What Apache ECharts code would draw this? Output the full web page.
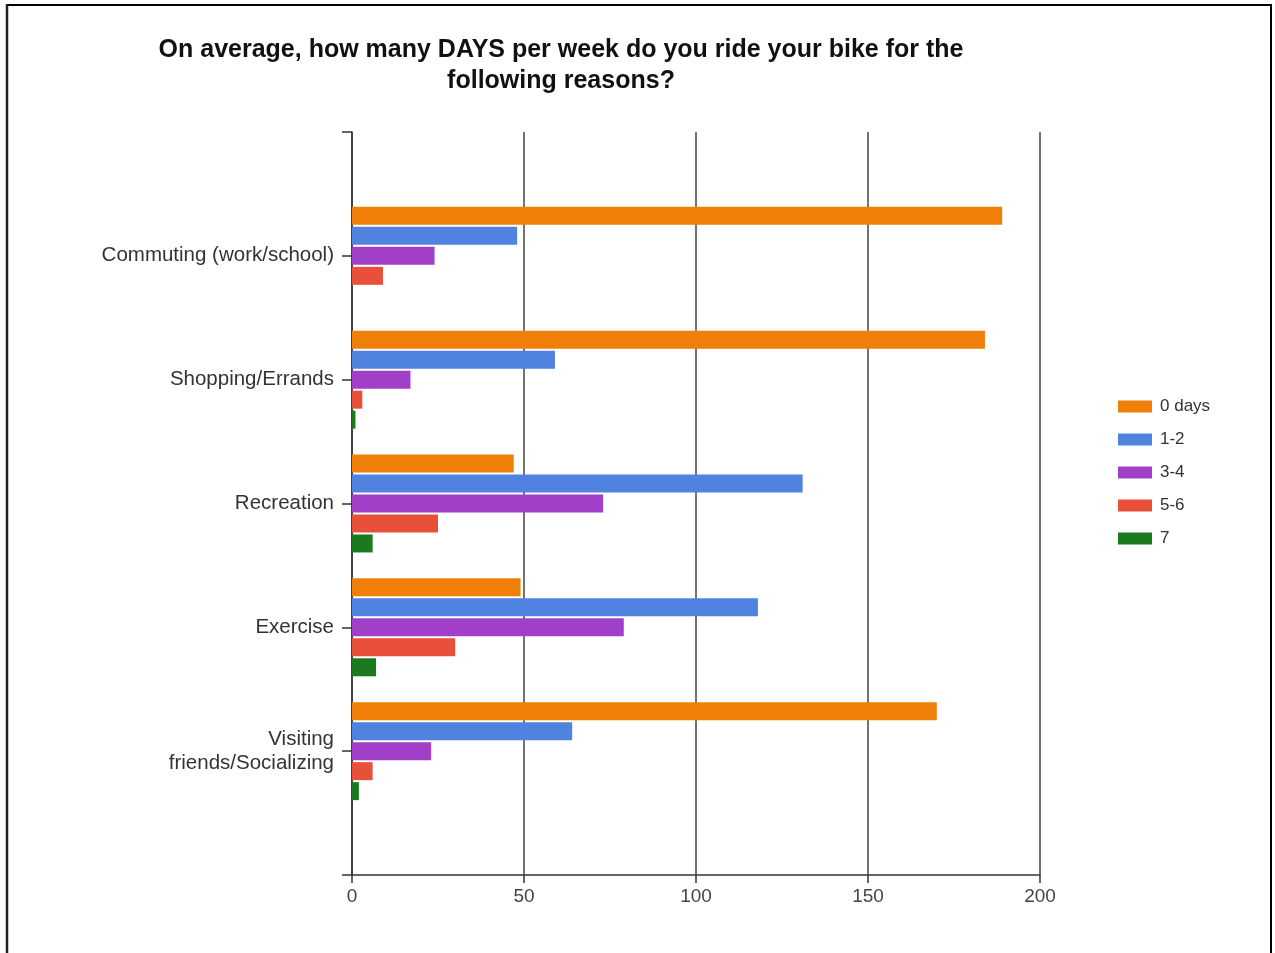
<!DOCTYPE html>
<html>
<head>
<meta charset="utf-8">
<script src="https://cdn.jsdelivr.net/npm/echarts@6/dist/echarts.min.js"></script>
<style>
html,body{margin:0;padding:0;background:#fff;}
#chart{width:1275px;height:953px;}
</style>
</head>
<body>
<div id="chart"></div>
<script>
const titleText = 'On average, how many DAYS per week do you ride your bike for the\nfollowing reasons?';
const categories = ['Commuting (work/school)', 'Shopping/Errands', 'Recreation', 'Exercise', 'Visiting\nfriends/Socializing'];
const seriesNames = ['0 days', '1-2', '3-4', '5-6', '7'];
const days0 = [189, 184, 47, 49, 170];
const days12 = [48, 59, 131, 118, 64];
const days34 = [24, 17, 73, 79, 23];
const days56 = [9, 3, 25, 30, 6];
const days7 = [0, 1, 6, 7, 2];
const xTicks = [0, 50, 100, 150, 200];
const colors = ['#f07f09', '#4f83df', '#a23fc9', '#e9503a', '#1b7a1e'];

const allValues = [days0, days12, days34, days56, days7];
const paddedCats = [''].concat(categories, ['']);

const chart = echarts.init(document.getElementById('chart'), null, {renderer: 'canvas'});
const font = '"Liberation Sans", Arial, sans-serif';

chart.setOption({
  animation: false,
  backgroundColor: '#ffffff',
  color: colors,
  title: {
    text: titleText,
    left: 556,
    top: 30,
    textAlign: 'center',
    textStyle: {fontFamily: font, fontSize: 25, fontWeight: 'bold', color: '#111', lineHeight: 31}
  },
  legend: {
    orient: 'vertical',
    left: 1113,
    top: 393,
    itemWidth: 34,
    itemHeight: 12,
    itemGap: 16,
    icon: 'rect',
    textStyle: {fontFamily: font, fontSize: 17, color: '#333', padding: [0, 0, 0, 3]},
    data: seriesNames
  },
  grid: {left: 352, right: 235, top: 132, bottom: 78, containLabel: false},
  xAxis: {
    type: 'value',
    min: xTicks[0],
    max: xTicks[xTicks.length - 1],
    interval: 50,
    axisLine: {show: true, lineStyle: {color: '#333', width: 1.5}},
    axisTick: {show: true, length: 8, lineStyle: {color: '#333', width: 1.5}},
    axisLabel: {fontFamily: font, fontSize: 19, color: '#444', margin: 12},
    splitLine: {show: true, lineStyle: {color: '#444', width: 1.5}}
  },
  yAxis: {
    type: 'category',
    inverse: true,
    boundaryGap: false,
    data: paddedCats,
    axisLine: {show: true, lineStyle: {color: '#333', width: 1.5}},
    axisTick: {show: true, length: 10, lineStyle: {color: '#333', width: 1.5}},
    axisLabel: {fontFamily: font, fontSize: 20.5, color: '#333', margin: 18, align: 'right', lineHeight: 24, interval: 0},
    splitLine: {show: false}
  },
  series: seriesNames.map((name, i) => ({
    name: name,
    type: 'bar',
    data: [null].concat(allValues[i], [null]),
    barWidth: 18,
    barGap: '11%',
    itemStyle: {color: colors[i]}
  })),
  graphic: [
    {type: 'line', shape: {x1: 7, y1: 5, x2: 1271, y2: 5}, style: {stroke: '#000', lineWidth: 2}},
    {type: 'line', shape: {x1: 7, y1: 4, x2: 7, y2: 953}, style: {stroke: '#222', lineWidth: 2.5}},
    {type: 'line', shape: {x1: 1271, y1: 4, x2: 1271, y2: 953}, style: {stroke: '#000', lineWidth: 2}}
  ]
});
</script>
</body>
</html>
